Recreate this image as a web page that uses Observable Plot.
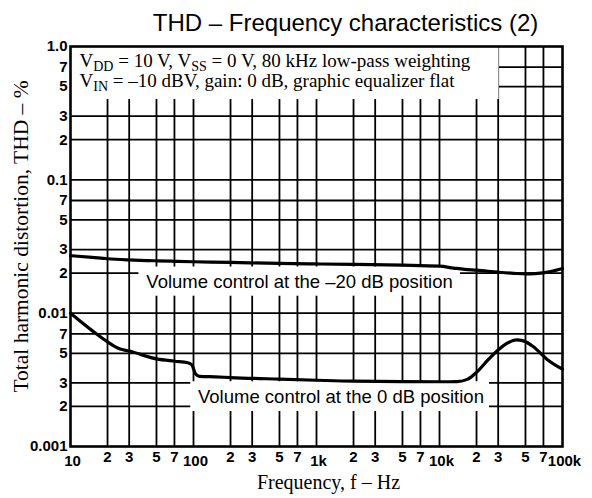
<!DOCTYPE html>
<html>
<head>
<meta charset="utf-8">
<script src="https://cdn.jsdelivr.net/npm/d3@7"></script>
<script src="https://cdn.jsdelivr.net/npm/@observablehq/plot@0.6"></script>
<style>
  html, body { margin: 0; padding: 0; background: #fff; }
  #chart svg { display: block; }
</style>
</head>
<body>
<div id="chart"></div>
<script>
// ---- data ----
const freqMinus20 = [10, 15, 20, 30, 50, 70, 100, 200, 500, 1000, 2000, 5000, 10000, 13000, 16000, 20000, 30000, 40000, 50000, 60000, 80000, 100000];
const thdMinus20  = [0.0270, 0.0262, 0.0256, 0.0251, 0.0247, 0.0245, 0.0243, 0.0240, 0.0236, 0.0234, 0.0232, 0.0229, 0.0225, 0.0218, 0.0213, 0.0210, 0.0203, 0.0199, 0.0197, 0.0198, 0.0205, 0.0216];

const freq0dB = [10, 15, 20, 25, 30, 50, 70, 90, 97, 104, 112, 150, 200, 500, 1000, 2000, 5000, 10000, 14000, 17000, 20000, 25000, 30000, 35000, 42000, 48000, 58000, 75000, 100000];
const thd0dB  = [0.0100, 0.0074, 0.0061, 0.0054, 0.0052, 0.00454, 0.00436, 0.00425, 0.0041, 0.0035, 0.00336, 0.00333, 0.00329, 0.00320, 0.00314, 0.00309, 0.00307, 0.00306, 0.00307, 0.0032, 0.0036, 0.0045, 0.0053, 0.0059, 0.0063, 0.0062, 0.0056, 0.0045, 0.0038];

const xGrid = [20, 30, 50, 70, 100, 200, 300, 500, 700, 1000, 2000, 3000, 5000, 7000, 10000, 20000, 30000, 50000, 70000];
const yGrid = [0.7, 0.5, 0.3, 0.2, 0.1, 0.07, 0.05, 0.03, 0.02, 0.01, 0.007, 0.005, 0.003, 0.002];

const xMinorTicks = [20, 30, 50, 70, 200, 300, 500, 700, 2000, 3000, 5000, 7000, 20000, 30000, 50000, 70000];
const xMinorLabels = ["2", "3", "5", "7", "2", "3", "5", "7", "2", "3", "5", "7", "2", "3", "5", "7"];
const xDecadeTicks = [10, 100, 1000, 10000, 100000];
const xDecadeLabels = ["10", "100", "1k", "10k", "100k"];

const yTicks = [1, 0.7, 0.5, 0.3, 0.2, 0.1, 0.07, 0.05, 0.03, 0.02, 0.01, 0.007, 0.005, 0.003, 0.002, 0.001];
const yTickLabels = ["1.0", "7", "5", "3", "2", "0.1", "7", "5", "3", "2", "0.01", "7", "5", "3", "2", "0.001"];

const titleText = "THD – Frequency characteristics (2)";
const xLabel = "Frequency, f – Hz";
const yLabel = "Total harmonic distortion, THD – %";
const noteLine1 = "VDD = 10 V, VSS = 0 V, 80 kHz low-pass weighting";
const noteLine2 = "VIN = –10 dBV, gain: 0 dB, graphic equalizer flat";

const curveLabels = ["Volume control at the –20 dB position", "Volume control at the 0 dB position"];
const curveLabelFreq = [728, 1581];
const curveLabelThd = [0.0171, 0.00233];

// white masks behind the annotations (in data units)
const maskX1 = [10, 36, 95];
const maskX2 = [30500, 14800, 25500];
const maskY1 = [0.4, 0.0134, 0.00183];
const maskY2 = [1, 0.0222, 0.00306];

// ---- build ----
const lineMinus20 = freqMinus20.map((f, i) => ({f, v: thdMinus20[i]}));
const line0dB = freq0dB.map((f, i) => ({f, v: thd0dB[i]}));
const masks = maskX1.map((x1, i) => ({x1, x2: maskX2[i], y1: maskY1[i], y2: maskY2[i]}));
const labels = curveLabels.map((t, i) => ({t, f: curveLabelFreq[i], v: curveLabelThd[i]}));

const sans = "Liberation Sans, Arial, Helvetica, sans-serif";
const serif = "Liberation Serif, Times New Roman, serif";

const plot = Plot.plot({
  width: 592,
  height: 498,
  marginLeft: 70,
  marginRight: 30,
  marginTop: 46,
  marginBottom: 52,
  style: {background: "#fff", color: "#000", overflow: "visible"},
  x: {type: "log", domain: [10, 100000], axis: null},
  y: {type: "log", domain: [0.001, 1], axis: null},
  marks: [
    Plot.ruleX(xGrid, {stroke: "#000", strokeWidth: 1.8}),
    Plot.ruleY(yGrid, {stroke: "#000", strokeWidth: 1.8}),
    Plot.rect(masks, {x1: "x1", x2: "x2", y1: "y1", y2: "y2", fill: "#fff"}),
    Plot.line(lineMinus20, {x: "f", y: "v", curve: "monotone-x", stroke: "#000", strokeWidth: 3.2}),
    Plot.line(line0dB, {x: "f", y: "v", curve: "monotone-x", stroke: "#000", strokeWidth: 3.2}),
    Plot.frame({stroke: "#000", strokeWidth: 2.6}),
    Plot.text(labels, {x: "f", y: "v", text: "t", fontFamily: sans, fontSize: 18.5, fill: "#000", textAnchor: "middle", lineAnchor: "middle"}),
    // y tick labels
    Plot.text(yTicks, {x: 10, y: d => d, text: (d, i) => yTickLabels[i], textAnchor: "end", lineAnchor: "middle", dx: -3, fontFamily: sans, fontWeight: "bold", fontSize: 15, fill: "#000"}),
    // x tick labels
    Plot.text(xMinorTicks, {x: d => d, y: 0.001, text: (d, i) => xMinorLabels[i], textAnchor: "middle", lineAnchor: "top", dy: 5, fontFamily: sans, fontWeight: "bold", fontSize: 15, fill: "#000"}),
    Plot.text(xDecadeTicks, {x: d => d, y: 0.001, text: (d, i) => xDecadeLabels[i], textAnchor: "middle", lineAnchor: "top", dx: 2, dy: 9, fontFamily: sans, fontWeight: "bold", fontSize: 15, fill: "#000"}),
    // notes
    Plot.text([noteLine1], {frameAnchor: "top-left", dx: 9, dy: 20, textAnchor: "start", lineAnchor: "bottom", fontFamily: serif, fontSize: 19, fill: "#000"}),
    Plot.text([noteLine2], {frameAnchor: "top-left", dx: 9, dy: 40, textAnchor: "start", lineAnchor: "bottom", fontFamily: serif, fontSize: 19, fill: "#000"}),
    // title & axis labels
    Plot.text([titleText], {frameAnchor: "top", dx: 29, dy: -16, textAnchor: "middle", lineAnchor: "bottom", fontFamily: sans, fontSize: 24, letterSpacing: "1.2px", fill: "#000"}),
    Plot.text([xLabel], {frameAnchor: "bottom", dx: 12, dy: 42, textAnchor: "middle", lineAnchor: "bottom", fontFamily: serif, fontSize: 20, fill: "#000"}),
    Plot.text([yLabel], {frameAnchor: "left", dx: -43, dy: -10, rotate: -90, textAnchor: "middle", lineAnchor: "bottom", fontFamily: serif, fontSize: 21.5, fill: "#000"})
  ]
});

// subscripts in the notes
const subs = {
  [noteLine1]: [["V", null], ["DD", "sub"], [" = 10 V, V", null], ["SS", "sub"], [" = 0 V, 80 kHz low-pass weighting", null]],
  [noteLine2]: [["V", null], ["IN", "sub"], [" = –10 dBV, gain: 0 dB, graphic equalizer flat", null]]
};
plot.querySelectorAll("text").forEach(t => {
  const parts = subs[t.textContent];
  if (!parts) return;
  t.textContent = "";
  let shifted = false;
  for (const [s, kind] of parts) {
    const ts = document.createElementNS("http://www.w3.org/2000/svg", "tspan");
    ts.textContent = s;
    if (kind === "sub") { ts.setAttribute("dy", "4"); ts.setAttribute("font-size", "14"); shifted = true; }
    else if (shifted) { ts.setAttribute("dy", "-4"); shifted = false; }
    t.appendChild(ts);
  }
});

document.getElementById("chart").appendChild(plot);
</script>
</body>
</html>
